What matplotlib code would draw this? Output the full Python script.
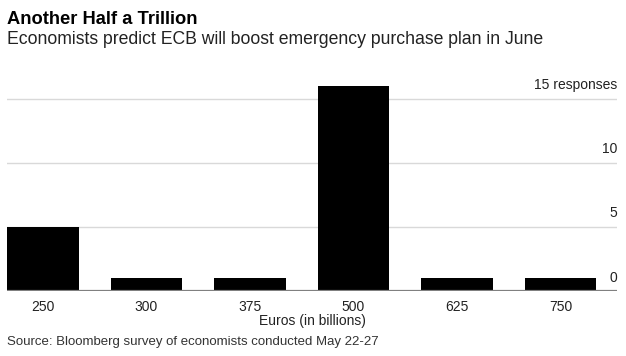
import matplotlib.pyplot as plt
import matplotlib.transforms as mtransforms

# survey responses per expected purchase-plan size
categories = ["250", "300", "375", "500", "625", "750"]
responses = [5, 1, 1, 16, 1, 1]
ytick_vals = [0, 5, 10, 15]
ytick_labels = ["0", "5", "10", "15 responses"]

plt.rcParams['font.family'] = ['Liberation Sans', 'DejaVu Sans']

W, H = 626, 356
fig = plt.figure(figsize=(W / 100, H / 100), dpi=100)
left, right = 7, 617
bottom, top = 290.7, 85.7
ax = fig.add_axes([left / W, (H - bottom) / H, (right - left) / W, (bottom - top) / H])

x = range(len(categories))
ax.bar(x, responses, width=0.695, color="black", zorder=2)
ax.set_xlim(-0.348, 5.546)
ax.set_ylim(0, 16)

for v in ytick_vals[1:]:
    ax.axhline(v, color="#d9d9d9", lw=1, zorder=1)
ax.axhline(0, color="#808080", lw=1.6, zorder=3)

trans = mtransforms.blended_transform_factory(ax.transAxes, ax.transData)
for v, lab in zip(ytick_vals, ytick_labels):
    ax.annotate(lab, xy=(1, v), xycoords=trans, xytext=(0, 9.5), textcoords="offset points",
                ha="right", va="center", fontsize=10, color="#222222")

ax.set_xticks(list(x))
ax.set_xticklabels(categories, fontsize=10, color="#222222")
ax.tick_params(axis="x", length=0, pad=6.5)
ax.set_yticks([])
for s in ax.spines.values():
    s.set_visible(False)
ax.set_xlabel("Euros (in billions)", fontsize=10, color="#222222", labelpad=0.5)

fig.text(7 / W, 1 - 19 / H, "Another Half a Trillion", fontsize=13.2, fontweight="bold",
         va="center", ha="left", color="black")
fig.text(7 / W, 1 - 40 / H, "Economists predict ECB will boost emergency purchase plan in June",
         fontsize=12.7, va="center", ha="left", color="#222222")
fig.text(7 / W, 1 - 342 / H, "Source: Bloomberg survey of economists conducted May 22-27",
         fontsize=9.5, va="center", ha="left", color="#333333")

fig.savefig("out.png", dpi=100)
